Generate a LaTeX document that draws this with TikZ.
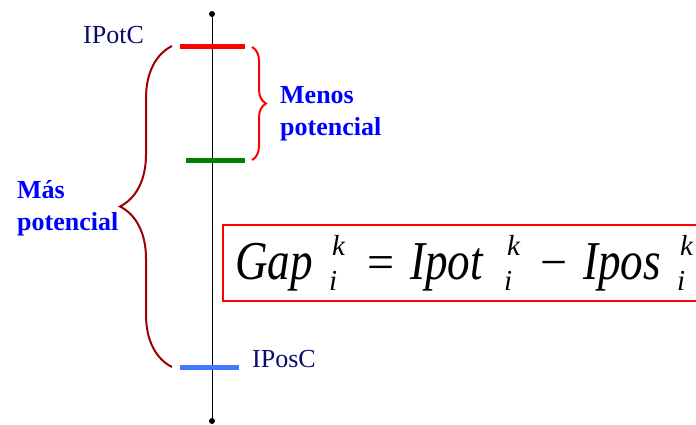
\documentclass[tikz,border=0pt]{standalone}
\usepackage{fontspec}
\setmainfont{Liberation Serif}
\newfontfamily\gpformula{Liberation Serif Italic}
\usetikzlibrary{decorations.pathreplacing}
\definecolor{gpnavy}{HTML}{0B0B6B}
\definecolor{gpblue}{HTML}{0000FF}
\definecolor{gpred}{HTML}{FF0000}
\definecolor{gpdarkred}{HTML}{A00000}
\definecolor{gpgreen}{HTML}{008000}
\definecolor{gpbar}{HTML}{4477FF}
\newcommand{\tallword}[1]{\scalebox{0.94}[1.14]{#1}}

\begin{document}
\begin{tikzpicture}[x=1pt,y=-1pt,
    level/.style={line width=5pt},
    tag/.style={inner sep=0pt,font=\fontsize{26}{30}\selectfont,text=gpnavy},
    note/.style={inner sep=0pt,align=left,font=\fontsize{26}{32}\selectfont\bfseries,text=gpblue},
    formula/.style={inner sep=0pt,font=\fontsize{48}{48}\selectfont\gpformula},
    index/.style={inner sep=0pt,font=\fontsize{29}{29}\selectfont\gpformula}]
  \useasboundingbox (0,0) rectangle (696,424);

  % axis
  \fill (212,14) circle (3pt) coordinate (axtop);
  \fill (212,421) circle (3pt) coordinate (axbot);
  \draw[line width=1pt] (axtop) -- (axbot);

  % levels
  \coordinate (potc-l) at (180,46);  \coordinate (potc-r) at (245,46);
  \coordinate (mid-l) at (186,160);  \coordinate (mid-r) at (245,160);
  \coordinate (posc-l) at (180,367); \coordinate (posc-r) at (239,367);
  \draw[level,gpred] (potc-l) -- (potc-r);
  \draw[level,gpgreen] (mid-l) -- (mid-r);
  \draw[level,gpbar] (posc-l) -- (posc-r);

  \node[tag,anchor=base west] (potc) at (83,43) {IPotC};
  \node[tag,anchor=base west] (posc) at (252,367) {IPosC};

  % braces
  \coordinate (mas-b) at (172,367);  \coordinate (mas-t) at (172,46);
  \draw[gpdarkred,line width=2pt,decorate,decoration={brace,amplitude=52pt}]
    (mas-b) -- (mas-t);
  \coordinate (menos-t) at (252,47); \coordinate (menos-b) at (252,160);
  \draw[gpred,line width=2pt,decorate,decoration={brace,amplitude=14pt}]
    (menos-t) -- (menos-b);

  \node[note,anchor=north west] (menos) at (280,86) {Menos\\potencial};
  \node[note,anchor=north west] (mas) at (17,180) {Más\\potencial};

  % formula
  \draw[gpred,line width=2pt] (223,225) rectangle (720,301);
  \foreach \x/\w/\n in {235/Gap/gap,410/Ipot/ipot,583/Ipos/ipos}
  {
    \node[formula,anchor=base west] (\n) at (\x,279) {\tallword{\w}};
    \node[index,anchor=base west] (\n-k) at (\x+97,255) {k};
    \node[index,anchor=base west] (\n-i) at (\x+94,290) {i};
  }
  \node[formula,font=\fontsize{48}{48}\selectfont,anchor=base] (eq) at (381,278) {=};
  \node[formula,font=\fontsize{48}{48}\selectfont,anchor=base] (minus) at (554,278) {−};
\end{tikzpicture}
\end{document}
